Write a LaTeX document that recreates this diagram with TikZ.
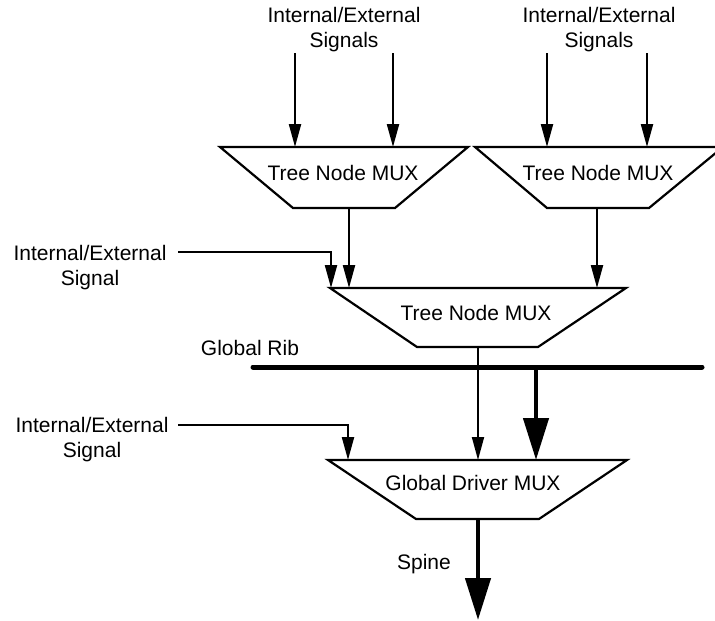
\documentclass[tikz,border=0pt]{standalone}
\usepackage{fontspec}
\setmainfont{Liberation Sans}
\usetikzlibrary{arrows.meta}
\tikzset{
  muxshape/.style={line width=2.2pt, line join=miter},
  lbl/.style={font=\fontsize{21}{25}\selectfont, inner sep=0pt, anchor=base, align=center},
  sig/.style={line width=2.2pt, -{Triangle[length=23pt,width=12pt]}},
  thinsig/.style={line width=1.8pt, -{Triangle[length=23pt,width=12pt]}},
  busarrow/.style={line width=4.5pt, -{Triangle[length=42pt,width=25pt]}},
  rib/.style={line width=5pt, line cap=round}
}
\begin{document}
\begin{tikzpicture}[x=1pt,y=-1pt]
\useasboundingbox (0,0) rectangle (715,621);

% MUX 1
\draw[muxshape] (220,147) -- (468,147) -- (395,208) -- (293,208) -- cycle;
\node[lbl] (m1) at (343,180) {Tree Node MUX};
\coordinate (m1a) at (295,147);
\coordinate (m1b) at (393,147);
\coordinate (m1o) at (349,208);
% MUX 2
\draw[muxshape] (475,147) -- (723,147) -- (649,208) -- (547,208) -- cycle;
\node[lbl] (m2) at (598,180) {Tree Node MUX};
\coordinate (m2a) at (547,147);
\coordinate (m2b) at (647,147);
\coordinate (m2o) at (597,208);
% MUX 3
\draw[muxshape] (330,288) -- (626,288) -- (538,347) -- (417,347) -- cycle;
\node[lbl] (m3) at (476,320) {Tree Node MUX};
\coordinate (m3a) at (331,288);
\coordinate (m3b) at (349,288);
\coordinate (m3c) at (597,288);
\coordinate (m3o) at (478,347);
% MUX 4
\draw[muxshape] (328,460) -- (627,460) -- (539,519) -- (416,519) -- cycle;
\node[lbl] (m4) at (473,490) {Global Driver MUX};
\coordinate (m4a) at (348,460);
\coordinate (m4b) at (478,460);
\coordinate (m4c) at (536,460);
\coordinate (m4o) at (478,519);

% top labels
\node[lbl] (t1) at (344,47) {Internal/External\\Signals};
\node[lbl] (t2) at (599,47) {Internal/External\\Signals};
\coordinate (t1a) at (295,53);
\coordinate (t1b) at (393,53);
\coordinate (t2a) at (547,53);
\coordinate (t2b) at (647,53);
\draw[sig] (t1a) -- (m1a);
\draw[sig] (t1b) -- (m1b);
\draw[sig] (t2a) -- (m2a);
\draw[sig] (t2b) -- (m2b);

% MUX outputs to MUX3
\draw[sig] (m1o) -- (m3b);
\draw[sig] (m2o) -- (m3c);

% left signal 1
\node[lbl] (s1) at (90,285) {Internal/External\\Signal};
\coordinate (s1o) at (178,252);
\draw[sig] (s1o) -| (m3a);

% global rib
\node[lbl] (gr) at (250,355) {Global Rib};
\coordinate (r1) at (253,367);
\coordinate (r2) at (702,367);
\coordinate (rt) at (536,367);
\draw[rib] (r1) -- (r2);

% MUX3 to MUX4
\draw[thinsig] (m3o) -- (m4b);
\draw[busarrow] (rt) -- (m4c);

% left signal 2
\node[lbl] (s2) at (92,457) {Internal/External\\Signal};
\coordinate (s2o) at (178,425);
\draw[sig] (s2o) -| (m4a);

% spine
\node[lbl] (sp) at (424,569) {Spine};
\coordinate (spe) at (478,620);
\draw[busarrow] (m4o) -- (spe);
\end{tikzpicture}
\end{document}
